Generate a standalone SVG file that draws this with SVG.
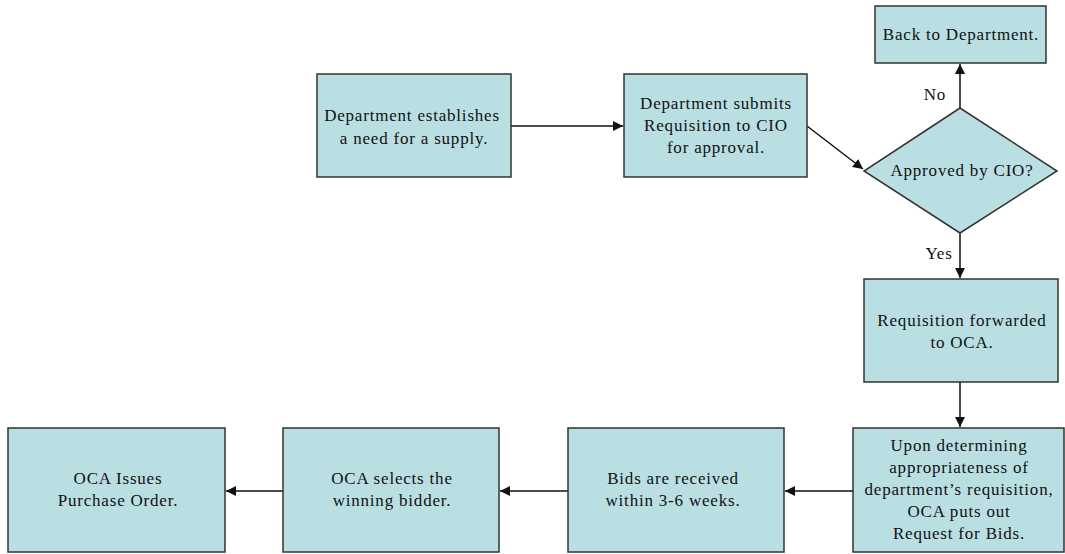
<svg xmlns="http://www.w3.org/2000/svg" width="1065" height="554" viewBox="0 0 1065 554">
<style>
.box{fill:#BADFE3;stroke:#333;stroke-width:1.5}
.t{font-family:"Liberation Serif","Times New Roman",serif;font-size:17px;letter-spacing:0.8px;fill:#111;text-anchor:middle}
.c{stroke:#111;stroke-width:1.5;fill:none;marker-end:url(#ah)}
</style>
<defs>
<marker id="ah" markerWidth="10" markerHeight="10" viewBox="0 0 10 10" refX="10" refY="5" orient="auto" markerUnits="userSpaceOnUse">
<path d="M0,0 L10,5 L0,10 z" fill="#111"/>
</marker>
</defs>
<rect width="1065" height="554" fill="#fff"/>
<g id="connectors">
<line class="c" x1="511" y1="126" x2="623" y2="126"/>
<line class="c" x1="807" y1="126" x2="863" y2="169"/>
<line class="c" x1="960" y1="108" x2="960" y2="64"/>
<line class="c" x1="960" y1="233" x2="960" y2="278"/>
<line class="c" x1="960" y1="382" x2="960" y2="427"/>
<line class="c" x1="853" y1="491" x2="785" y2="491"/>
<line class="c" x1="568" y1="491" x2="500" y2="491"/>
<line class="c" x1="283" y1="491" x2="226" y2="491"/>
<text class="t" x="935" y="100">No</text>
<text class="t" x="939" y="259">Yes</text>
</g>
<g id="n1">
<rect class="box" x="317" y="74" width="194" height="103"/>
<text class="t" x="412" y="121">Department establishes</text>
<text class="t" x="414" y="144">a  need for a supply.</text>
</g>
<g id="n2">
<rect class="box" x="624" y="74" width="183" height="103"/>
<text class="t" x="716" y="109">Department submits</text>
<text class="t" x="716" y="131">Requisition to CIO</text>
<text class="t" x="716" y="153">for approval.</text>
</g>
<g id="n3">
<polygon class="box" points="960,108 1057,171 960,233 864,171"/>
<text class="t" x="962" y="176">Approved by CIO?</text>
</g>
<g id="n4">
<rect class="box" x="875" y="6" width="171" height="57"/>
<text class="t" x="961" y="40">Back to Department.</text>
</g>
<g id="n5">
<rect class="box" x="864" y="279" width="194" height="103"/>
<text class="t" x="962" y="326">Requisition forwarded</text>
<text class="t" x="962" y="348">to OCA.</text>
</g>
<g id="n6">
<rect class="box" x="853" y="428" width="211" height="124"/>
<text class="t" x="959" y="451">Upon determining</text>
<text class="t" x="959" y="473">appropriateness of</text>
<text class="t" x="959" y="495">department’s requisition,</text>
<text class="t" x="959" y="517">OCA puts out</text>
<text class="t" x="959" y="539">Request for Bids.</text>
</g>
<g id="n7">
<rect class="box" x="568" y="428" width="216" height="124"/>
<text class="t" x="673" y="484">Bids are received</text>
<text class="t" x="673" y="506">within 3-6 weeks.</text>
</g>
<g id="n8">
<rect class="box" x="283" y="428" width="216" height="124"/>
<text class="t" x="392" y="484">OCA selects the</text>
<text class="t" x="392" y="506">winning bidder.</text>
</g>
<g id="n9">
<rect class="box" x="8" y="428" width="217" height="124"/>
<text class="t" x="118" y="484">OCA Issues</text>
<text class="t" x="118" y="506">Purchase Order.</text>
</g>
</svg>
